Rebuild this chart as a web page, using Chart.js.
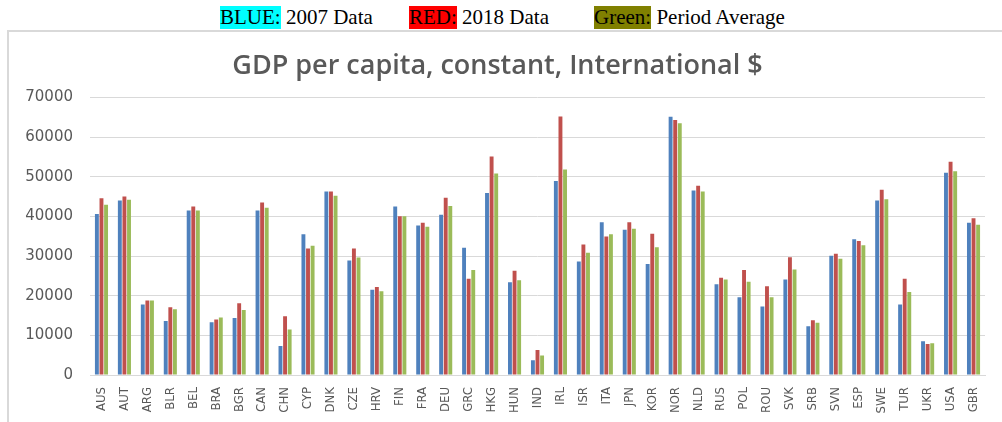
<!DOCTYPE html>
<html>
<head>
<meta charset="utf-8">
<script src="https://cdn.jsdelivr.net/npm/chart.js@4"></script>
<style>
  body { margin: 0; width: 1002px; height: 422px; position: relative; overflow: hidden; background: #fff; }
  .key { position: absolute; top: 6px; font-family: "Liberation Serif", "Times New Roman", serif; font-size: 21px; line-height: 23px; color: #000; white-space: nowrap; }
  .key span { display: inline-block; }
  .frame { position: absolute; left: 7px; top: 30px; width: 1010px; height: 410px; border: 2px solid #d9d9d9; box-sizing: border-box; }
  #chart { position: absolute; left: 0; top: 0; }
</style>
</head>
<body>
<div class="key" style="left:220px"><span style="background:#00ffff">BLUE:</span> 2007 Data</div>
<div class="key" style="left:409px"><span style="background:#ff0000">RED:</span> 2018 Data</div>
<div class="key" style="left:594px"><span style="background:#808000">Green:</span> Period Average</div>
<div class="frame"></div>
<canvas id="chart" width="1002" height="422"></canvas>
<script>
// Country codes on the x axis
const countries = ['AUS', 'AUT', 'ARG', 'BLR', 'BEL', 'BRA', 'BGR', 'CAN', 'CHN', 'CYP', 'DNK', 'CZE', 'HRV',
  'FIN', 'FRA', 'DEU', 'GRC', 'HKG', 'HUN', 'IND', 'IRL', 'ISR', 'ITA', 'JPN', 'KOR', 'NOR',
  'NLD', 'RUS', 'POL', 'ROU', 'SVK', 'SRB', 'SVN', 'ESP', 'SWE', 'TUR', 'UKR', 'USA', 'GBR'];

// GDP per capita values
const gdp2007 = [40600, 44000, 17800, 13600, 41500, 13300, 14400, 41500, 7300, 35500, 46300, 28900, 21500,
  42500, 37700, 40400, 32100, 45900, 23400, 3700, 48900, 28600, 38500, 36600, 28000, 65100,
  46500, 22900, 19600, 17300, 24100, 12300, 30100, 34200, 44000, 17800, 8500, 51000, 38400];
const gdp2018 = [44600, 45000, 18800, 17100, 42500, 14000, 18100, 43500, 14800, 31900, 46300, 31900, 22200,
  40000, 38400, 44700, 24300, 55100, 26300, 6300, 65200, 32900, 34900, 38500, 35600, 64300,
  47700, 24500, 26500, 22400, 29700, 13800, 30600, 33800, 46700, 24300, 7800, 53800, 39500];
const gdpAverage = [42900, 44200, 18800, 16600, 41500, 14500, 16400, 42200, 11500, 32600, 45200, 29600, 21100,
  40000, 37400, 42600, 26500, 50800, 23900, 4900, 51800, 30800, 35500, 36900, 32200, 63500,
  46300, 24100, 23500, 19600, 26600, 13200, 29300, 32700, 44300, 20900, 8000, 51400, 37900];

// Y axis ticks
const yMin = 0;
const yMax = 70000;
const yStep = 10000;

const textGray = '#595959';
const gridGray = '#d9d9d9';

function barSet(label, data, color) {
  return {
    label: label,
    data: data,
    backgroundColor: color,
    borderWidth: 0,
    barPercentage: 0.85,
    categoryPercentage: 0.6
  };
}

new Chart(document.getElementById('chart'), {
  type: 'bar',
  data: {
    labels: countries,
    datasets: [
      barSet('2007 Data', gdp2007, '#4f81bd'),
      barSet('2018 Data', gdp2018, '#c0504d'),
      barSet('Period Average', gdpAverage, '#9bbb59')
    ]
  },
  options: {
    responsive: false,
    devicePixelRatio: 1,
    animation: false,
    layout: { padding: { left: 10, right: 17, top: 0, bottom: 0 } },
    plugins: {
      legend: { display: false },
      tooltip: { enabled: false },
      title: {
        display: true,
        text: 'GDP per capita, constant, International $',
        color: textGray,
        font: { family: 'Open Sans', size: 27, weight: '600' },
        padding: { top: 50, bottom: 15 }
      }
    },
    scales: {
      x: {
        grid: { display: false },
        border: { display: true, color: gridGray },
        ticks: {
          color: textGray,
          font: { family: "'DejaVu Sans Condensed', Roboto, sans-serif", size: 13 },
          maxRotation: 90,
          minRotation: 90,
          autoSkip: false,
          padding: 4
        },
        afterFit: scale => { scale.height = 47; }
      },
      y: {
        min: yMin,
        max: yMax,
        grid: { color: gridGray, drawTicks: false },
        border: { display: false },
        ticks: {
          stepSize: yStep,
          color: textGray,
          font: { family: 'DejaVu Sans', size: 15 },
          padding: 17,
          callback: v => String(v)
        },
        afterFit: scale => { scale.width = 80; }
      }
    }
  }
});
</script>
</body>
</html>
